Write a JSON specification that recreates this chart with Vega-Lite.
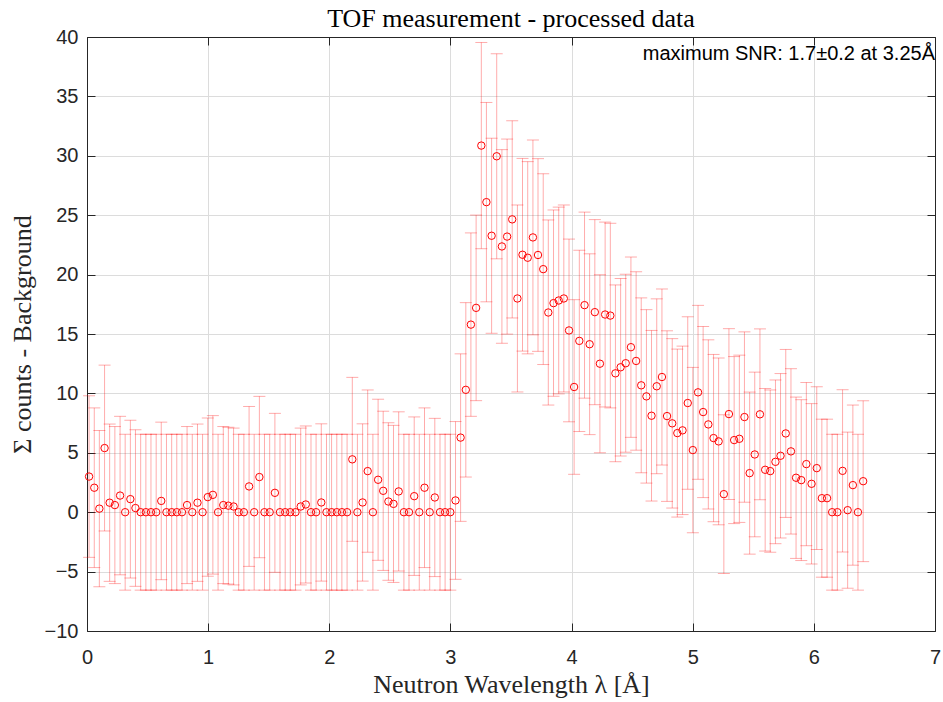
{
  "$schema": "https://vega.github.io/schema/vega-lite/v6.json",
  "width": 848,
  "height": 594,
  "autosize": {"type": "none"},
  "padding": {"left": 87, "top": 37, "right": 8, "bottom": 71},
  "background": "white",
  "title": {"text": "TOF measurement - processed data", "font": "Liberation Serif", "fontSize": 26, "fontWeight": "normal", "color": "#000000", "offset": 1, "dy": 27, "baseline": "alphabetic", "anchor": "middle"},
  "data": {"values": [
    {"x":0.017,"y":3.0,"e":6.80},{"x":0.060,"y":2.06,"e":6.72},{"x":0.102,"y":0.3,"e":6.58},{"x":0.145,"y":5.4,"e":6.98},{"x":0.187,"y":0.8,"e":6.62},
    {"x":0.230,"y":0.6,"e":6.61},{"x":0.273,"y":1.4,"e":6.67},{"x":0.315,"y":0,"e":6.56},{"x":0.358,"y":1.1,"e":6.64},{"x":0.400,"y":0.35,"e":6.59},
    {"x":0.443,"y":0,"e":6.56},{"x":0.486,"y":0,"e":6.56},{"x":0.528,"y":0,"e":6.56},{"x":0.571,"y":0,"e":6.56},{"x":0.613,"y":0.95,"e":6.63},
    {"x":0.656,"y":0,"e":6.56},{"x":0.699,"y":0,"e":6.56},{"x":0.741,"y":0,"e":6.56},{"x":0.784,"y":0,"e":6.56},{"x":0.826,"y":0.6,"e":6.61},
    {"x":0.869,"y":0,"e":6.56},{"x":0.912,"y":0.8,"e":6.62},{"x":0.954,"y":0,"e":6.56},{"x":0.997,"y":1.27,"e":6.66},{"x":1.039,"y":1.46,"e":6.67},
    {"x":1.082,"y":0,"e":6.56},{"x":1.125,"y":0.6,"e":6.61},{"x":1.167,"y":0.55,"e":6.60},{"x":1.210,"y":0.48,"e":6.60},{"x":1.252,"y":0,"e":6.56},
    {"x":1.295,"y":0,"e":6.56},{"x":1.338,"y":2.17,"e":6.73},{"x":1.380,"y":0,"e":6.56},{"x":1.423,"y":2.96,"e":6.79},{"x":1.465,"y":0,"e":6.56},
    {"x":1.508,"y":0,"e":6.56},{"x":1.551,"y":1.63,"e":6.69},{"x":1.593,"y":0,"e":6.56},{"x":1.636,"y":0,"e":6.56},{"x":1.678,"y":0,"e":6.56},
    {"x":1.721,"y":0,"e":6.56},{"x":1.764,"y":0.48,"e":6.60},{"x":1.806,"y":0.65,"e":6.61},{"x":1.849,"y":0,"e":6.56},{"x":1.891,"y":0,"e":6.56},
    {"x":1.934,"y":0.82,"e":6.62},{"x":1.977,"y":0,"e":6.56},{"x":2.019,"y":0,"e":6.56},{"x":2.062,"y":0,"e":6.56},{"x":2.104,"y":0,"e":6.56},
    {"x":2.147,"y":0,"e":6.56},{"x":2.190,"y":4.45,"e":6.90},{"x":2.232,"y":0,"e":6.56},{"x":2.275,"y":0.82,"e":6.62},{"x":2.317,"y":3.46,"e":6.83},
    {"x":2.360,"y":0,"e":6.56},{"x":2.403,"y":2.73,"e":6.78},{"x":2.445,"y":1.8,"e":6.70},{"x":2.488,"y":0.9,"e":6.63},{"x":2.530,"y":0.7,"e":6.61},
    {"x":2.573,"y":1.75,"e":6.70},{"x":2.616,"y":0,"e":6.56},{"x":2.658,"y":0,"e":6.56},{"x":2.701,"y":1.35,"e":6.67},{"x":2.743,"y":0,"e":6.56},
    {"x":2.786,"y":2.06,"e":6.72},{"x":2.829,"y":0,"e":6.56},{"x":2.871,"y":1.24,"e":6.66},{"x":2.914,"y":0,"e":6.56},{"x":2.956,"y":0,"e":6.56},
    {"x":2.999,"y":0,"e":6.56},{"x":3.042,"y":0.99,"e":6.64},{"x":3.084,"y":6.28,"e":7.05},{"x":3.127,"y":10.3,"e":7.34},{"x":3.169,"y":15.79,"e":7.72},
    {"x":3.212,"y":17.2,"e":7.81},{"x":3.255,"y":30.86,"e":8.68},{"x":3.297,"y":26.1,"e":8.39},{"x":3.340,"y":23.27,"e":8.21},{"x":3.382,"y":29.96,"e":8.63},
    {"x":3.425,"y":22.37,"e":8.15},{"x":3.468,"y":23.2,"e":8.21},{"x":3.510,"y":24.65,"e":8.30},{"x":3.553,"y":17.99,"e":7.87},{"x":3.595,"y":21.67,"e":8.11},
    {"x":3.638,"y":21.42,"e":8.09},{"x":3.681,"y":23.13,"e":8.20},{"x":3.723,"y":21.65,"e":8.11},{"x":3.766,"y":20.46,"e":8.03},{"x":3.808,"y":16.81,"e":7.79},
    {"x":3.851,"y":17.6,"e":7.84},{"x":3.894,"y":17.82,"e":7.86},{"x":3.936,"y":17.99,"e":7.87},{"x":3.979,"y":15.3,"e":7.69},{"x":4.021,"y":10.54,"e":7.35},
    {"x":4.064,"y":14.42,"e":7.63},{"x":4.107,"y":17.43,"e":7.83},{"x":4.149,"y":14.14,"e":7.61},{"x":4.192,"y":16.84,"e":7.79},{"x":4.234,"y":12.5,"e":7.49},
    {"x":4.277,"y":16.64,"e":7.78},{"x":4.320,"y":16.55,"e":7.77},{"x":4.362,"y":11.69,"e":7.44},{"x":4.405,"y":12.2,"e":7.47},{"x":4.447,"y":12.54,"e":7.49},
    {"x":4.490,"y":13.89,"e":7.59},{"x":4.533,"y":12.73,"e":7.51},{"x":4.575,"y":10.68,"e":7.36},{"x":4.618,"y":9.75,"e":7.30},{"x":4.660,"y":8.12,"e":7.18},
    {"x":4.703,"y":10.6,"e":7.36},{"x":4.746,"y":11.38,"e":7.41},{"x":4.788,"y":8.09,"e":7.18},{"x":4.831,"y":7.48,"e":7.13},{"x":4.873,"y":6.66,"e":7.07},
    {"x":4.916,"y":6.89,"e":7.09},{"x":4.959,"y":9.19,"e":7.26},{"x":5.001,"y":5.23,"e":6.96},{"x":5.044,"y":10.09,"e":7.32},{"x":5.086,"y":8.43,"e":7.20},
    {"x":5.129,"y":7.39,"e":7.12},{"x":5.172,"y":6.24,"e":7.04},{"x":5.214,"y":5.96,"e":7.02},{"x":5.257,"y":1.52,"e":6.68},{"x":5.299,"y":8.26,"e":7.19},
    {"x":5.342,"y":6.07,"e":7.03},{"x":5.385,"y":6.18,"e":7.04},{"x":5.427,"y":8.01,"e":7.17},{"x":5.470,"y":3.29,"e":6.82},{"x":5.512,"y":4.86,"e":6.93},
    {"x":5.555,"y":8.24,"e":7.19},{"x":5.598,"y":3.57,"e":6.84},{"x":5.640,"y":3.46,"e":6.83},{"x":5.683,"y":4.24,"e":6.89},{"x":5.725,"y":4.75,"e":6.92},
    {"x":5.768,"y":6.63,"e":7.07},{"x":5.811,"y":5.12,"e":6.96},{"x":5.853,"y":2.9,"e":6.79},{"x":5.896,"y":2.7,"e":6.77},{"x":5.938,"y":4.05,"e":6.87},
    {"x":5.981,"y":2.39,"e":6.75},{"x":6.024,"y":3.71,"e":6.85},{"x":6.066,"y":1.18,"e":6.65},{"x":6.109,"y":1.18,"e":6.65},{"x":6.151,"y":0,"e":6.56},
    {"x":6.194,"y":0,"e":6.56},{"x":6.237,"y":3.48,"e":6.83},{"x":6.279,"y":0.17,"e":6.57},{"x":6.322,"y":2.28,"e":6.74},{"x":6.364,"y":0,"e":6.56},
    {"x":6.407,"y":2.61,"e":6.77}
  ]},
  "layer": [
    {
      "mark": {"type": "errorbar", "color": "#ff0000", "opacity": 0.33, "thickness": 1, "ticks": {"size": 12, "thickness": 1}},
      "encoding": {
        "x": {"field": "x", "type": "quantitative", "scale": {"domain": [0, 7], "nice": false, "zero": false},
          "axis": {"orient": "bottom", "values": [0,1,2,3,4,5,6,7], "grid": true, "title": "Neutron Wavelength λ [Å]", "tickSize": -8, "labelPadding": 24, "titlePadding": 4}},
        "y": {"field": "y", "type": "quantitative", "scale": {"domain": [-10, 40], "nice": false, "zero": false},
          "axis": {"orient": "left", "values": [-10,-5,0,5,10,15,20,25,30,35,40], "grid": true, "title": "Σ counts - Background", "tickSize": -8, "labelPadding": 17, "titlePadding": 9}},
        "yError": {"field": "e"}
      }
    },
    {
      "mark": {"type": "point", "shape": "circle", "filled": false, "color": "#ff0000", "size": 55, "strokeWidth": 1, "opacity": 1},
      "encoding": {
        "x": {"field": "x", "type": "quantitative", "axis": {"orient": "top", "values": [0,1,2,3,4,5,6,7], "labels": false, "grid": false, "title": null, "tickSize": -8}},
        "y": {"field": "y", "type": "quantitative", "axis": {"orient": "right", "values": [-10,-5,0,5,10,15,20,25,30,35,40], "labels": false, "grid": false, "title": null, "tickSize": -8}}
      }
    },
    {
      "data": {"values": [{"label": "maximum SNR: 1.7±0.2 at 3.25Å"}]},
      "mark": {"type": "text", "align": "right", "baseline": "alphabetic", "font": "Liberation Sans", "fontSize": 20, "color": "#000000"},
      "encoding": {
        "x": {"datum": 7, "type": "quantitative", "axis": null},
        "y": {"datum": 38.05, "type": "quantitative", "axis": null},
        "text": {"field": "label"}
      }
    }
  ],
  "resolve": {"axis": {"x": "independent", "y": "independent"}},
  "config": {
    "view": {"stroke": null},
    "axis": {
      "domainColor": "#262626",
      "domainWidth": 1,
      "tickColor": "#262626",
      "tickWidth": 1,
      "gridColor": "#dcdcdc",
      "gridWidth": 1,
      "labelFont": "Liberation Sans",
      "labelFontSize": 20,
      "labelColor": "#262626",
      "titleFont": "Liberation Serif",
      "titleFontSize": 26,
      "titleFontWeight": "normal",
      "titleColor": "#262626",
      "labelFlush": false,
      "labelOverlap": false
    }
  }
}
